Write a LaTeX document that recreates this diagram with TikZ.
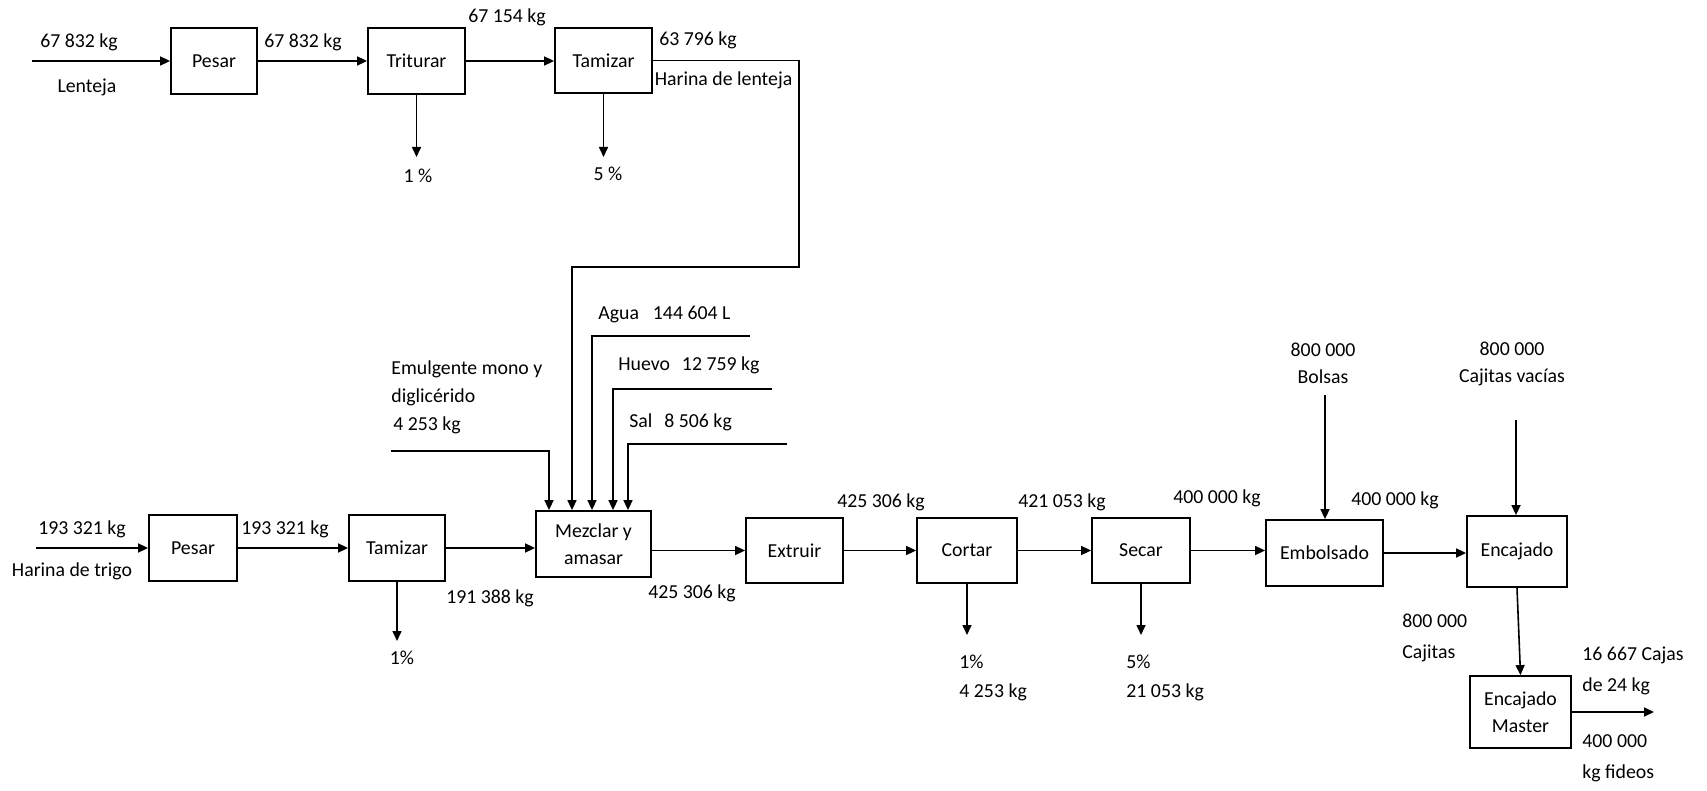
\documentclass[tikz,border=0pt]{standalone}
\usepackage{fontspec}
\setmainfont{Carlito}
\usetikzlibrary{arrows.meta}
\begin{document}
\begin{tikzpicture}[x=0.5pt,y=-0.5pt,
  font=\fontsize{9.9}{13.5}\selectfont,
  box/.style={draw, line width=0.9pt, inner sep=0pt, align=center},
  arr/.style={line width=0.8pt, -{Triangle[length=5pt,width=4.5pt]}},
  ln/.style={line width=0.8pt},
  lbl/.style={inner sep=0pt, align=center},
  lbll/.style={inner sep=0pt, align=left, anchor=west},
  wide/.style={font=\fontsize{9.9}{15.5}\selectfont}]
\useasboundingbox (0,0) rectangle (1707,791);

% ---------- boxes ----------
\node[box, minimum width=43pt,   minimum height=33pt]   (pesarA)    at (214,61)     {Pesar};
\node[box, minimum width=48.5pt, minimum height=33pt]   (triturar)  at (416.5,61)   {Triturar};
\node[box, minimum width=48.5pt, minimum height=32.5pt] (tamizarA)  at (603.5,60.5) {Tamizar};
\node[box, minimum width=44pt,   minimum height=33pt]   (pesarB)    at (193,548)    {Pesar};
\node[box, minimum width=48pt,   minimum height=33pt]   (tamizarB)  at (397,548)    {Tamizar};
\node[box, minimum width=57.5pt, minimum height=33pt]   (mezclar)   at (593.5,544)  {Mezclar y\\amasar};
\node[box, minimum width=48.5pt, minimum height=32.5pt] (extruir)   at (794.5,550.5) {Extruir};
\node[box, minimum width=50pt,   minimum height=32.5pt] (cortar)    at (967,550.5)  {Cortar};
\node[box, minimum width=49pt,   minimum height=32.5pt] (secar)     at (1141,550.5) {Secar};
\node[box, minimum width=58.5pt, minimum height=33pt]   (embolsado) at (1324.5,553) {Embolsado};
\node[box, minimum width=50pt,   minimum height=35.5pt] (encajado)  at (1517,551.5) {Encajado};
\node[box, minimum width=50.5pt, minimum height=36pt]   (master)    at (1520.5,712) {Encajado\\Master};

% ---------- free ends ----------
\coordinate (lentIn) at (32,61);
\coordinate (trigoIn) at (36,548);
\coordinate (l1) at (418,157);
\coordinate (l2) at (607,157);
\coordinate (l3) at (396,641);
\coordinate (l4) at (968,635);
\coordinate (l5) at (1141,635);
\coordinate (r1) at (799,61);
\coordinate (r2) at (799,267);
\coordinate (r3) at (572,267);
\coordinate (agua1) at (750,336);
\coordinate (agua2) at (592,336);
\coordinate (huevo1) at (772,389);
\coordinate (huevo2) at (613,389);
\coordinate (sal1) at (787,444);
\coordinate (sal2) at (628,444);
\coordinate (emul1) at (391,451);
\coordinate (emul2) at (549,451);
\coordinate (bolsasTop) at (1325,395);
\coordinate (cajTop) at (1516,420);
\coordinate (outEnd) at (1654,712);

% ---------- top row ----------
\draw[arr] (lentIn) -- (lentIn -| pesarA.west);
\draw[arr] (pesarA) -- (triturar);
\draw[arr] (triturar.east) -- (triturar.east -| tamizarA.west);
\draw[arr] (triturar.south) -- (triturar.south |- l1);
\draw[arr] (tamizarA.south) -- (tamizarA.south |- l2);
\draw[arr] (tamizarA.east) -- (tamizarA.east -| r1) -- (r2) -- (r3) -- (r3 |- mezclar.north);

% ---------- mixer inputs ----------
\draw[arr] (agua1) -- (agua2) -- (agua2 |- mezclar.north);
\draw[arr] (huevo1) -- (huevo2) -- (huevo2 |- mezclar.north);
\draw[arr] (sal1) -- (sal2) -- (sal2 |- mezclar.north);
\draw[arr] (emul1) -- (emul2) -- (emul2 |- mezclar.north);

% ---------- main row ----------
\draw[arr] (trigoIn) -- (trigoIn -| pesarB.west);
\draw[arr] (pesarB) -- (tamizarB);
\draw[arr] (tamizarB.east) -- (tamizarB.east -| mezclar.west);
\draw[arr] (tamizarB.south) -- (tamizarB.south |- l3);
\draw[arr] (mezclar.east |- extruir.west) -- (extruir.west);
\draw[arr] (extruir) -- (cortar);
\draw[arr] (cortar) -- (secar);
\draw[arr] (cortar.south) -- (cortar.south |- l4);
\draw[arr] (secar.south) -- (secar.south |- l5);
\draw[arr] (secar.east) -- (secar.east -| embolsado.west);
\draw[arr] (embolsado.east) -- (embolsado.east -| encajado.west);
\draw[arr] (bolsasTop) -- (bolsasTop |- embolsado.north);
\draw[arr] (cajTop) -- (cajTop |- encajado.north);
\draw[arr] (encajado.south) -- (master.north);
\draw[arr] (master.east) -- (master.east -| outEnd);

% ---------- labels ----------
\node[lbl] (t1) at (79,42) {67 832 kg};
\node[lbl] (t2) at (87,87) {Lenteja};
\node[lbl] (t3) at (303,42) {67 832 kg};
\node[lbl] (t4) at (507,17) {67 154 kg};
\node[lbl] (t5) at (698,40) {63 796 kg};
\node[lbl] (t6) at (723.5,80) {Harina de lenteja};
\node[lbl] (t7) at (418,176) {1 \%};
\node[lbl] (t8) at (608,174) {5 \%};

\node[lbll] (t9)  at (598,315) {Agua\hspace{0.7em}144 604 L};
\node[lbll] (t10) at (618,365) {Huevo\hspace{0.6em}12 759 kg};
\node[lbll] (t11) at (629,422) {Sal\hspace{0.6em}8 506 kg};
\node[lbll, font=\fontsize{9.9}{14}\selectfont] (t12) at (391,397) {Emulgente mono y\\diglicérido\\\hspace{0.1em}4 253 kg};

\node[lbl] (t13) at (82,529) {193 321 kg};
\node[lbl] (t14) at (72,571) {Harina de trigo};
\node[lbl] (t15) at (285,529) {193 321 kg};
\node[lbl] (t16) at (490,598) {191 388 kg};
\node[lbl] (t17) at (402,658) {1\%};
\node[lbl] (t18) at (692,593) {425 306 kg};
\node[lbl] (t19) at (881,502) {425 306 kg};
\node[lbl] (t20) at (1062,502) {421 053 kg};
\node[lbl] (t21) at (1217,498) {400 000 kg};
\node[lbl] (t22) at (1395,500) {400 000 kg};
\node[lbll, font=\fontsize{9.9}{14.5}\selectfont] (t23) at (959,677.5) {1\%\\4 253 kg};
\node[lbll, font=\fontsize{9.9}{14.5}\selectfont] (t24) at (1126,677.5) {5\%\\21 053 kg};
\node[lbl] (t25) at (1323,363.5) {800 000\\Bolsas};
\node[lbl] (t26) at (1512,363.5) {800 000\\Cajitas vacías};
\node[lbll, wide] (t27) at (1402,637.5) {800 000\\Cajitas};
\node[lbll, wide] (t28) at (1582,671) {16 667 Cajas\\de 24 kg};
\node[lbll, wide] (t29) at (1582,758) {400 000\\kg fideos};
\end{tikzpicture}
\end{document}
